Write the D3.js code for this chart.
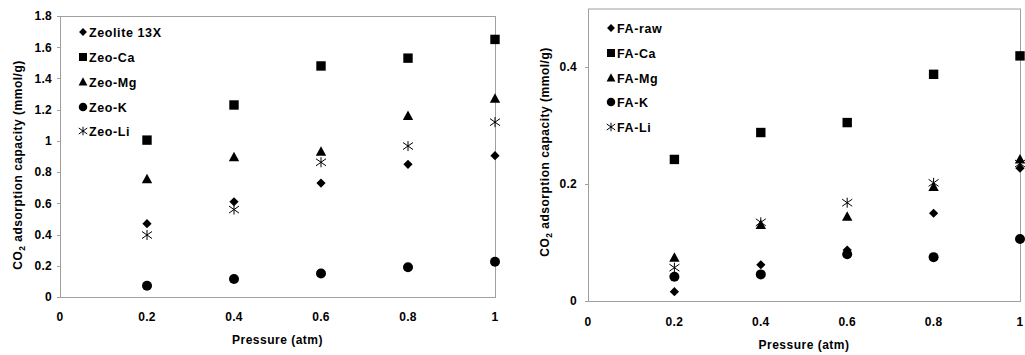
<!DOCTYPE html>
<html>
<head>
<meta charset="utf-8">
<script src="https://cdn.jsdelivr.net/npm/d3@7"></script>
<style>
  body { margin: 0; background: #fff; }
  svg { display: block; font-family: "Liberation Sans", Arial, sans-serif; }
  .tick-label { font-size: 12px; font-weight: bold; fill: #000; letter-spacing: 0.3px; }
  .axis-title { font-size: 12px; font-weight: bold; fill: #000; letter-spacing: 0.5px; }
  .legend-text { font-size: 12.5px; font-weight: bold; fill: #000; letter-spacing: 0.6px; }
</style>
</head>
<body>
<svg id="chart" width="1025" height="355"></svg>
<script>
var pressure = [0.2, 0.4, 0.6, 0.8, 1.0];
var xTicks = [0, 0.2, 0.4, 0.6, 0.8, 1];

// left panel: zeolite samples
var zeoNames = ["Zeolite 13X", "Zeo-Ca", "Zeo-Mg", "Zeo-K", "Zeo-Li"];
var zeo13X = [0.47, 0.61, 0.73, 0.85, 0.905];
var zeoCa = [1.005, 1.23, 1.48, 1.53, 1.65];
var zeoMg = [0.754, 0.895, 0.93, 1.16, 1.27];
var zeoK = [0.072, 0.115, 0.15, 0.19, 0.226];
var zeoLi = [0.397, 0.56, 0.863, 0.967, 1.12];
var zeoYTicks = [0, 0.2, 0.4, 0.6, 0.8, 1, 1.2, 1.4, 1.6, 1.8];

// right panel: fly ash samples
var faNames = ["FA-raw", "FA-Ca", "FA-Mg", "FA-K", "FA-Li"];
var faRaw = [0.016, 0.062, 0.087, 0.15, 0.227];
var faCa = [0.242, 0.288, 0.305, 0.3875, 0.419];
var faMg = [0.074, 0.13, 0.144, 0.195, 0.242];
var faK = [0.0415, 0.0455, 0.08, 0.075, 0.106];
var faLi = [0.057, 0.1345, 0.168, 0.202, 0.235];
var faYTicks = [0, 0.2, 0.4];

var shapes = ["diamond", "square", "triangle", "circle", "star"];
var axisColor = "#a0a0a0";

function markerPath(shape, s) {
  if (shape === "diamond") {
    var d = 4.6 * s;
    return "M0," + (-d) + "L" + d + ",0L0," + d + "L" + (-d) + ",0Z";
  }
  if (shape === "square") {
    var h = 4.7 * s;
    return "M" + (-h) + "," + (-h) + "H" + h + "V" + h + "H" + (-h) + "Z";
  }
  if (shape === "triangle") {
    var w = 5.2 * s;
    return "M0," + (-5.5 * s) + "L" + w + "," + (4 * s) + "L" + (-w) + "," + (4 * s) + "Z";
  }
  if (shape === "circle") {
    var r = 5 * s;
    return "M" + r + ",0A" + r + "," + r + " 0 1,1 " + (-r) + ",0A" + r + "," + r + " 0 1,1 " + r + ",0Z";
  }
  // asterisk: X plus vertical bar
  var a = 5 * s;
  return "M" + (-a) + "," + (-a * 0.7) + "L" + a + "," + (a * 0.7) +
    "M" + (-a) + "," + (a * 0.7) + "L" + a + "," + (-a * 0.7) +
    "M0," + (-a) + "V" + a;
}

function drawMarker(g, shape, x, y, s) {
  var p = g.append("path")
    .attr("transform", "translate(" + x + "," + y + ")")
    .attr("d", markerPath(shape, s));
  if (shape === "star") {
    p.attr("fill", "none").attr("stroke", "#000").attr("stroke-width", 1);
  } else {
    p.attr("fill", "#000");
  }
}

var svg = d3.select("#chart");

function drawPanel(opt) {
  var x = d3.scaleLinear().domain([0, 1]).range([opt.left, opt.right]);
  var y = d3.scaleLinear().domain([0, opt.yMax]).range([opt.bottom, opt.top]);
  var g = svg.append("g");

  // plot frame
  g.append("rect")
    .attr("x", opt.left + 0.5)
    .attr("y", opt.top + 0.5)
    .attr("width", opt.right - opt.left)
    .attr("height", opt.bottom - opt.top)
    .attr("fill", "none")
    .attr("stroke", axisColor)
    .attr("stroke-width", 1);

  // y ticks
  opt.yTicks.forEach(function(t) {
    var yy = Math.round(y(t)) + 0.5;
    g.append("line")
      .attr("x1", opt.left - 3).attr("x2", opt.left + 0.5)
      .attr("y1", yy).attr("y2", yy)
      .attr("stroke", axisColor);
    g.append("text")
      .attr("class", "tick-label")
      .attr("x", opt.left - opt.yLabelGap)
      .attr("y", y(t))
      .attr("dy", "0.36em")
      .attr("text-anchor", "end")
      .text(String(t));
  });

  // x tick labels
  xTicks.forEach(function(t) {
    g.append("text")
      .attr("class", "tick-label")
      .attr("x", x(t))
      .attr("y", opt.xLabelY)
      .attr("dy", "0.36em")
      .attr("text-anchor", "middle")
      .text(String(t));
  });

  // axis titles
  g.append("text")
    .attr("class", "axis-title")
    .attr("x", (opt.left + opt.right) / 2)
    .attr("y", opt.xTitleY)
    .attr("dy", "0.36em")
    .attr("text-anchor", "middle")
    .text("Pressure (atm)");

  var yt = g.append("text")
    .attr("class", "axis-title")
    .attr("transform", "translate(" + opt.yTitleX + "," + opt.yTitleY + ") rotate(-90)")
    .attr("dy", "0.36em")
    .attr("text-anchor", "middle");
  yt.append("tspan").text("CO");
  yt.append("tspan").attr("dy", "3").style("font-size", "8.5px").text("2");
  yt.append("tspan").attr("dy", "-3").text(" adsorption capacity (mmol/g)");

  // data points
  opt.series.forEach(function(vals, i) {
    vals.forEach(function(v, j) {
      drawMarker(g, shapes[i], x(pressure[j]), y(v), 1);
    });
  });

  // legend
  opt.names.forEach(function(name, i) {
    var ly = opt.legendY[i];
    drawMarker(g, shapes[i], opt.legendX, ly, 0.85);
    g.append("text")
      .attr("class", "legend-text")
      .attr("x", opt.legendX + 6)
      .attr("y", ly)
      .attr("dy", "0.36em")
      .text(name);
  });
}

drawPanel({
  left: 60, right: 495, top: 16, bottom: 297,
  yMax: 1.8, yTicks: zeoYTicks, yLabelGap: 8,
  xLabelY: 317, xTitleY: 340,
  yTitleX: 18, yTitleY: 165,
  series: [zeo13X, zeoCa, zeoMg, zeoK, zeoLi],
  names: zeoNames,
  legendX: 83, legendY: [32, 57, 82, 107, 131]
});

drawPanel({
  left: 588, right: 1020, top: 8.5, bottom: 301,
  yMax: 0.5, yTicks: faYTicks, yLabelGap: 11,
  xLabelY: 322, xTitleY: 345,
  yTitleX: 545, yTitleY: 152,
  series: [faRaw, faCa, faMg, faK, faLi],
  names: faNames,
  legendX: 611, legendY: [28, 53, 78, 102, 127]
});
</script>
</body>
</html>
